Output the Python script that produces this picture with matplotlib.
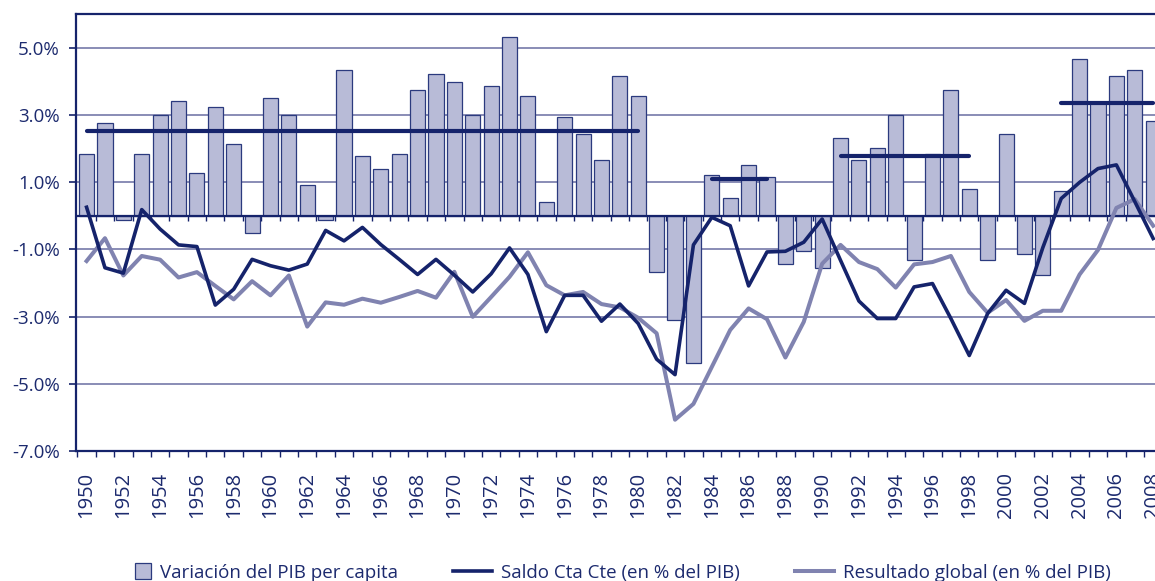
import numpy as np
import matplotlib.pyplot as plt
from matplotlib.lines import Line2D
from matplotlib.patches import Rectangle
from matplotlib.legend_handler import HandlerPatch

annees = list(range(1950, 2009))

# variacion del PIB per capita (%)
pib_pc = [1.84, 2.76, -0.12, 1.84, 2.99, 3.40, 1.26, 3.22, 2.12, -0.52,
          3.50, 2.99, 0.92, -0.12, 4.32, 1.78, 1.38, 1.84, 3.75, 4.21,
          3.98, 3.00, 3.87, 5.31, 3.57, 0.41, 2.94, 2.42, 1.67, 4.15,
          3.57, -1.68, -3.11, -4.38, 1.21, 0.52, 1.50, 1.14, -1.45, -1.04,
          -1.56, 2.31, 1.67, 2.01, 3.00, -1.33, 1.84, 3.75, 0.80, -1.33,
          2.42, -1.15, -1.78, 0.74, 4.67, 3.35, 4.14, 4.32, 2.82]

# saldo cuenta corriente (% del PIB)
saldo_cc = [0.25, -1.55, -1.71, 0.18, -0.40, -0.87, -0.92, -2.66, -2.19, -1.30,
            -1.49, -1.62, -1.44, -0.44, -0.75, -0.35, -0.86, -1.30, -1.75, -1.30,
            -1.77, -2.27, -1.73, -0.96, -1.75, -3.45, -2.37, -2.37, -3.14, -2.63,
            -3.21, -4.27, -4.73, -0.87, -0.05, -0.30, -2.09, -1.08, -1.06, -0.79,
            -0.10, -1.33, -2.54, -3.06, -3.06, -2.12, -2.02, -3.06, -4.16, -2.91,
            -2.22, -2.61, -0.95, 0.51, 0.99, 1.40, 1.51, 0.42, -0.68]

# resultado global (% del PIB)
res_global = [-1.35, -0.67, -1.78, -1.20, -1.31, -1.84, -1.68, -2.09, -2.49, -1.95,
              -2.37, -1.78, -3.30, -2.58, -2.65, -2.47, -2.59, -2.42, -2.24, -2.44,
              -1.67, -3.01, -2.42, -1.82, -1.09, -2.07, -2.37, -2.27, -2.63, -2.73,
              -3.04, -3.50, -6.07, -5.60, -4.50, -3.40, -2.76, -3.08, -4.22, -3.16,
              -1.43, -0.87, -1.38, -1.59, -2.14, -1.45, -1.38, -1.20, -2.27, -2.89,
              -2.51, -3.13, -2.83, -2.83, -1.75, -1.02, 0.23, 0.49, -0.30]

# promedios por periodo
periodo_ini = [1950, 1984, 1991, 2003]
periodo_fin = [1980, 1987, 1998, 2008]
promedio = [2.53, 1.09, 1.77, 3.34]

y_ticks = [-7, -5, -3, -1, 1, 3, 5]
etiquetas = ["Variación del PIB per capita", "Saldo Cta Cte (en % del PIB)",
             "Resultado global (en % del PIB)"]

marino = "#15236b"
lila = "#8083b0"
relleno = "#b8bbd7"
borde = "#2b3a7e"
texto = "#1c2a6e"

plt.rcParams['font.family'] = ['Open Sans', 'DejaVu Sans']

fig = plt.figure(figsize=(11.55, 5.81), dpi=100)
ax = fig.add_axes([0.0662, 0.2238, 0.9338, 0.7522])

x = np.array(annees)

# grilla horizontal
for v in y_ticks[1:]:
    ax.axhline(v, color=lila, lw=1.3, zorder=0)

ax.bar(x, pib_pc, width=0.82, color=relleno, edgecolor=borde,
       linewidth=0.9, zorder=2)

# linea del cero con marcas
ax.axhline(0, color=marino, lw=1.6, zorder=3)
ax.vlines(x[:-1] + 0.5, -0.15, 0, color=marino, lw=1.0, zorder=3)

l1, = ax.plot(x, saldo_cc, color=marino, lw=2.6, zorder=5)
l2, = ax.plot(x, res_global, color=lila, lw=2.9, zorder=4)

for a, b, p in zip(periodo_ini, periodo_fin, promedio):
    ax.plot([a, b], [p, p], color=marino, lw=3.0, solid_capstyle='round', zorder=6)

ax.set_xlim(1949.45, 2008.1)
ax.set_ylim(-7, 6)

ax.set_yticks(y_ticks)
ax.set_yticklabels([f"{v:.1f}%" for v in y_ticks])
ax.tick_params(axis='y', length=5, width=1.2, color=marino, pad=7,
               labelsize=13.5, labelcolor=texto)

ax.set_xticks(x[::2])
ax.set_xticklabels([str(a) for a in annees[::2]], rotation=90)
ax.set_xticks(np.arange(1949.5, 2008.5, 1), minor=True)
ax.tick_params(axis='x', which='major', length=0, pad=15, labelsize=14.5,
               labelcolor=texto)
ax.tick_params(axis='x', which='minor', length=4, width=1.0, color=marino)

for s in ['left', 'bottom', 'top']:
    ax.spines[s].set_color(marino)
    ax.spines[s].set_linewidth(1.6)
ax.spines['right'].set_visible(False)


# cuadrado de la leyenda pegado al texto
def cuadro_derecha(legend, orig_handle, xdescent, ydescent, width, height, fontsize):
    lado = fontsize * 0.85
    return Rectangle((width - xdescent - lado, (height - lado) / 2 - ydescent), lado, lado)


cuadro = Rectangle((0, 0), 1, 1, facecolor=relleno, edgecolor=borde, linewidth=0.9)
h1 = Line2D([], [], color=marino, lw=2.6)
h2 = Line2D([], [], color=lila, lw=2.9)
fig.legend([cuadro, h1, h2], etiquetas, loc='lower center', ncol=3,
           bbox_to_anchor=(0.5294, -0.03), frameon=False, fontsize=13.5,
           labelcolor=texto, handlelength=2.1, handletextpad=0.5,
           columnspacing=2.9,
           handler_map={Rectangle: HandlerPatch(patch_func=cuadro_derecha)})

plt.savefig("out.png", dpi=100)
